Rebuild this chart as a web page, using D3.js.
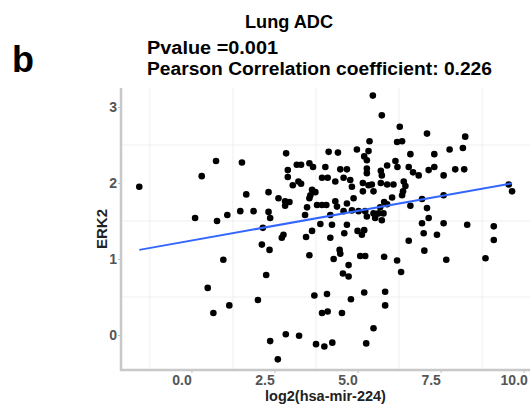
<!DOCTYPE html>
<html>
<head>
<meta charset="utf-8">
<script src="https://cdn.jsdelivr.net/npm/d3@7"></script>
<style>
  html, body { margin: 0; padding: 0; background: #fff; }
  svg { display: block; }
  text { font-family: "Liberation Sans", Arial, sans-serif; }
</style>
</head>
<body>
<svg id="chart" width="531" height="409"></svg>
<script>
// log2(hsa-mir-224) expression per sample
const xVals = [
  -1.57,0.31,0.74,0.11,0.77,1.08,0.96,0.49,1.14,0.66,
  2.85,1.52,4.13,4.41,4.98,3.17,3.30,3.55,3.66,2.90,
  2.90,4.03,4.48,4.68,3.93,4.10,4.33,4.58,4.78,3.22,
  3.30,3.05,4.83,3.63,3.73,3.58,1.65,2.32,2.62,3.55,
  4.88,2.82,2.95,4.33,4.68,2.82,3.78,3.93,4.06,3.48,
  4.38,1.47,1.87,2.32,2.37,3.42,4.18,4.58,4.83,5.03,
  5.46,5.73,6.27,7.09,8.24,5.36,6.19,6.34,7.77,8.17,
  5.33,6.59,7.31,5.20,5.28,6.14,5.89,6.20,6.54,7.31,
  7.14,7.94,8.21,5.28,5.70,6.67,6.84,7.59,5.28,5.73,
  5.16,5.33,5.43,5.70,5.89,6.08,6.39,6.44,5.16,5.48,
  6.37,6.34,6.04,7.59,6.94,9.55,9.65,5.80,5.89,5.68,
  6.59,7.09,5.23,5.48,5.63,5.78,5.28,5.73,7.14,6.94,
  7.59,8.30,9.10,5.53,
  2.15,3.88,4.23,4.68,5.00,5.20,5.13,2.77,2.72,3.63,
  3.45,4.18,4.60,2.12,2.35,3.55,4.28,4.46,4.48,4.73,
  5.08,5.23,2.25,4.56,4.73,2.00,3.70,4.08,4.80,5.20,
  3.93,4.10,4.53,2.84,3.24,2.37,3.75,4.00,4.24,5.26,
  2.60,
  9.10,6.99,7.39,6.54,7.01,7.67,8.85,5.80,6.19,6.31,
  5.83,5.83,5.48
];

// ERK2 expression per sample
const yVals = [
  1.95,2.09,2.29,1.54,1.50,1.58,0.99,0.62,0.39,0.29,
  2.39,2.27,2.41,2.40,2.44,2.24,2.24,2.26,2.21,2.17,
  2.08,2.21,2.18,2.18,2.07,2.07,2.02,2.07,2.04,2.02,
  1.99,1.97,1.95,1.91,1.88,1.84,1.85,1.88,1.80,1.80,
  1.80,1.76,1.75,1.76,1.73,1.70,1.71,1.71,1.71,1.68,
  1.69,1.63,1.63,1.62,1.54,1.58,1.58,1.63,1.64,1.63,
  3.15,2.89,2.74,2.65,2.61,2.55,2.54,2.55,2.44,2.46,
  2.42,2.38,2.38,2.35,2.30,2.29,2.23,2.21,2.21,2.21,
  2.17,2.18,2.18,2.19,2.16,2.14,2.10,2.10,2.13,2.10,
  2.00,1.97,1.98,2.00,1.98,1.98,2.02,1.96,1.89,1.89,
  1.89,1.84,1.81,1.84,1.79,1.98,1.89,1.75,1.72,1.68,
  1.70,1.67,1.63,1.60,1.60,1.60,1.56,1.51,1.54,1.47,
  1.47,1.45,1.43,1.54,
  1.41,1.46,1.45,1.45,1.37,1.38,1.32,1.32,1.28,1.37,
  1.29,1.28,1.34,1.19,1.12,1.05,1.00,1.12,1.07,0.92,
  1.04,1.04,0.79,0.81,0.77,0.46,0.52,0.54,0.47,0.56,
  0.29,0.31,0.29,0.01,-0.01,-0.08,-0.12,-0.15,-0.10,-0.11,
  -0.32,
  1.25,1.34,1.32,1.24,1.11,0.99,1.01,1.03,0.98,0.83,
  0.57,0.39,0.09
];

// Linear fit (ERK2 ~ miR-224)
const fitIntercept = 1.243;
const fitSlope = 0.078;

const xTicks = [0, 2.5, 5, 7.5, 10];
const xMinor = [-1.25, 1.25, 3.75, 6.25, 8.75];
const yTicks = [0, 1, 2, 3];
const yMinor = [0.5, 1.5, 2.5];

const titleText = "Lung ADC";
const pText = "Pvalue =0.001";
const rText = "Pearson Correlation coefficient: 0.226";
const panelLetter = "b";
const xTitle = "log2(hsa-mir-224)";
const yTitle = "ERK2";

const svg = d3.select("#chart");
const plot = { left: 121, right: 530, top: 88, bottom: 370 };

const x = d3.scaleLinear().domain([-2.12, 10.19]).range([plot.left, plot.right]);
const y = d3.scaleLinear().domain([-0.46, 3.25]).range([plot.bottom, plot.top]);

// faint grid
const grid = svg.append("g");
grid.selectAll("line.gx").data(xMinor).join("line")
  .attr("x1", d => x(d)).attr("x2", d => x(d))
  .attr("y1", plot.top).attr("y2", plot.bottom)
  .attr("stroke", "#efefef").attr("stroke-width", 1);
grid.selectAll("line.gy").data(yMinor).join("line")
  .attr("y1", d => y(d)).attr("y2", d => y(d))
  .attr("x1", plot.left).attr("x2", plot.right)
  .attr("stroke", "#efefef").attr("stroke-width", 1);

// axes
const xAxis = d3.axisBottom(x).tickValues(xTicks).tickSize(3).tickFormat(d3.format(".1f"));
const yAxis = d3.axisLeft(y).tickValues(yTicks).tickSize(3).tickFormat(d3.format("d"));

const gx = svg.append("g").attr("transform", `translate(0,${plot.bottom})`).call(xAxis);
gx.select(".domain").remove();
gx.selectAll(".tick line").attr("stroke", "#bbb");
gx.selectAll(".tick text")
  .attr("fill", "#555").attr("font-size", 14).attr("font-weight", "bold")
  .attr("font-family", "Liberation Sans, Arial, sans-serif")
  .attr("dx", -10).attr("y", 5);

const gy = svg.append("g").attr("transform", `translate(${plot.left},0)`).call(yAxis);
gy.select(".domain").remove();
gy.selectAll(".tick line").attr("stroke", "#bbb");
gy.selectAll(".tick text")
  .attr("fill", "#555").attr("font-size", 14).attr("font-weight", "bold")
  .attr("font-family", "Liberation Sans, Arial, sans-serif")
  .attr("x", -4);

// axis lines
svg.append("line")
  .attr("x1", plot.left).attr("x2", plot.left)
  .attr("y1", plot.top).attr("y2", plot.bottom + 1)
  .attr("stroke", "#c8c8c8").attr("stroke-width", 2.5);
svg.append("line")
  .attr("x1", plot.left - 1).attr("x2", plot.right)
  .attr("y1", plot.bottom).attr("y2", plot.bottom)
  .attr("stroke", "#c8c8c8").attr("stroke-width", 2.5);

// points
const pts = xVals.map((v, i) => ({ x: v, y: yVals[i] }));
svg.append("g").selectAll("circle").data(pts).join("circle")
  .attr("cx", d => x(d.x)).attr("cy", d => y(d.y))
  .attr("r", 3.3).attr("fill", "#000");

// regression line
const xr = d3.extent(xVals);
svg.append("path")
  .datum(xr.map(v => ({ x: v, y: fitIntercept + fitSlope * v })))
  .attr("d", d3.line().x(d => x(d.x)).y(d => y(d.y)))
  .attr("fill", "none").attr("stroke", "#3366FF").attr("stroke-width", 2);

// axis titles
svg.append("text")
  .attr("x", (plot.left + plot.right) / 2).attr("y", 401)
  .attr("text-anchor", "middle").attr("font-size", 14.5).attr("font-weight", "bold")
  .attr("fill", "#222").text(xTitle);
svg.append("text")
  .attr("transform", `translate(107,${(plot.top + plot.bottom) / 2}) rotate(-90)`)
  .attr("text-anchor", "middle").attr("font-size", 15).attr("font-weight", "bold")
  .attr("fill", "#222").text(yTitle);

// headings
svg.append("text")
  .attr("x", 289).attr("y", 28).attr("text-anchor", "middle")
  .attr("font-size", 18).attr("font-weight", "bold")
  .attr("textLength", 88).attr("lengthAdjust", "spacingAndGlyphs")
  .text(titleText);
svg.append("text")
  .attr("x", 147).attr("y", 54)
  .attr("font-size", 18).attr("font-weight", "bold")
  .attr("textLength", 131).attr("lengthAdjust", "spacingAndGlyphs")
  .text(pText);
svg.append("text")
  .attr("x", 147).attr("y", 75)
  .attr("font-size", 18).attr("font-weight", "bold")
  .attr("textLength", 345).attr("lengthAdjust", "spacingAndGlyphs")
  .text(rText);
svg.append("text")
  .attr("x", 12).attr("y", 72)
  .attr("font-size", 36).attr("font-weight", "bold")
  .text(panelLetter);
</script>
</body>
</html>
